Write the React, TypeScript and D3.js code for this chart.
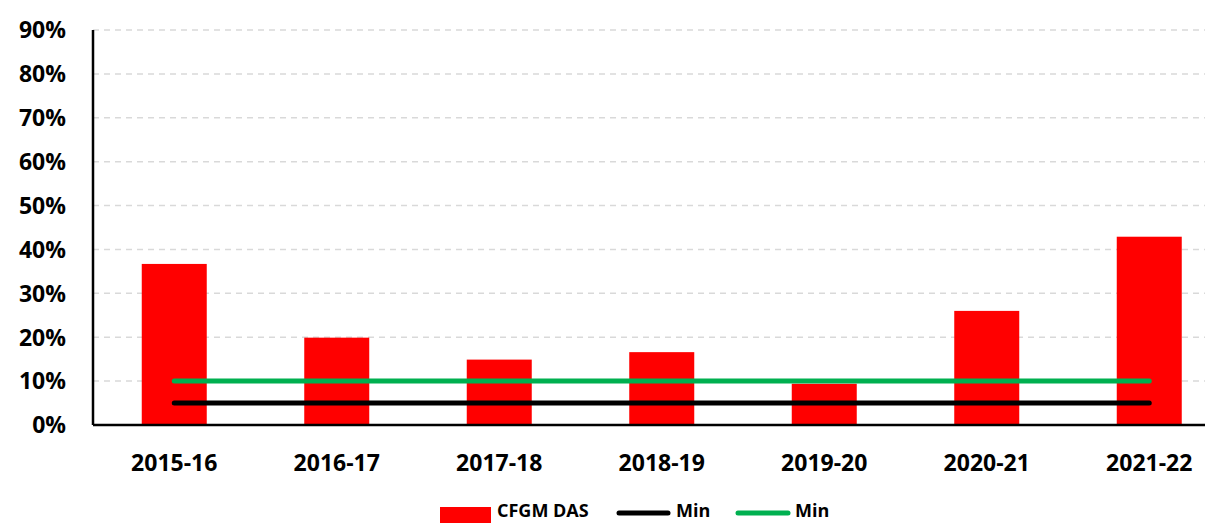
import React from 'react';
import * as d3 from 'd3';

const categories = ['2015-16', '2016-17', '2017-18', '2018-19', '2019-20', '2020-21', '2021-22'];
const dasValues = [0.367, 0.199, 0.149, 0.166, 0.094, 0.26, 0.429];
const minBlack = [0.05, 0.05, 0.05, 0.05, 0.05, 0.05, 0.05];
const minGreen = [0.1, 0.1, 0.1, 0.1, 0.1, 0.1, 0.1];
const yTicks = [0, 0.1, 0.2, 0.3, 0.4, 0.5, 0.6, 0.7, 0.8, 0.9];

const W = 1205;
const H = 523;
const margin = { left: 93, top: 30, bottom: 425 };
const FONT = "'Open Sans', 'Liberation Sans', sans-serif";

export default function App() {
  const x = d3.scaleBand<string>()
    .domain(categories)
    .range([margin.left, margin.left + 162.5 * categories.length])
    .paddingInner(0.6)
    .paddingOuter(0.3);
  const center = (c: string) => (x(c) as number) + x.bandwidth() / 2;
  const y = d3.scaleLinear().domain([0, 0.9]).range([margin.bottom, margin.top]);

  const line = d3.line<number>()
    .x((_, i) => center(categories[i]))
    .y((d) => y(d));

  return (
    <svg width={W} height={H} style={{ position: 'absolute', left: 0, top: 0, fontFamily: FONT }}>
      <rect width={W} height={H} fill="#fff" />
      {/* grid */}
      {yTicks.slice(1).map((t) => (
        <line key={t} x1={margin.left} x2={W} y1={y(t)} y2={y(t)}
          stroke="#d9d9d9" strokeWidth={1.5} strokeDasharray="6,5" />
      ))}
      {/* y labels */}
      {yTicks.map((t) => (
        <text key={t} x={66} y={y(t)} dy="0.36em" textAnchor="end"
          fontSize={23} fontWeight={700} fill="#000">
          {`${Math.round(t * 100)}%`}
        </text>
      ))}
      {/* bars */}
      {categories.map((c, i) => (
        <rect key={c} x={x(c)} y={y(dasValues[i])} width={x.bandwidth()}
          height={y(0) - y(dasValues[i])} fill="#ff0000" />
      ))}
      {/* min lines */}
      <path d={line(minBlack) || ''} fill="none" stroke="#000" strokeWidth={5} strokeLinecap="round" />
      <path d={line(minGreen) || ''} fill="none" stroke="#00b050" strokeWidth={5} strokeLinecap="round" />
      {/* axes */}
      <line x1={margin.left} x2={margin.left} y1={margin.top} y2={margin.bottom} stroke="#000" strokeWidth={2.5} />
      <line x1={margin.left} x2={W} y1={margin.bottom} y2={margin.bottom} stroke="#000" strokeWidth={2.5} />
      {/* x labels */}
      {categories.map((c) => (
        <text key={c} x={center(c)} y={471} textAnchor="middle"
          fontSize={23} fontWeight={700} fill="#000">{c}</text>
      ))}
      {/* legend */}
      <g fontSize={18} fontWeight={700} fill="#000">
        <rect x={440} y={507} width={51} height={16} fill="#ff0000" />
        <text x={497} y={517}>CFGM DAS</text>
        <line x1={619} x2={668} y1={513} y2={513} stroke="#000" strokeWidth={5} strokeLinecap="round" />
        <text x={676} y={517}>Min</text>
        <line x1={738} x2={788} y1={513} y2={513} stroke="#00b050" strokeWidth={5} strokeLinecap="round" />
        <text x={795} y={517}>Min</text>
      </g>
    </svg>
  );
}
